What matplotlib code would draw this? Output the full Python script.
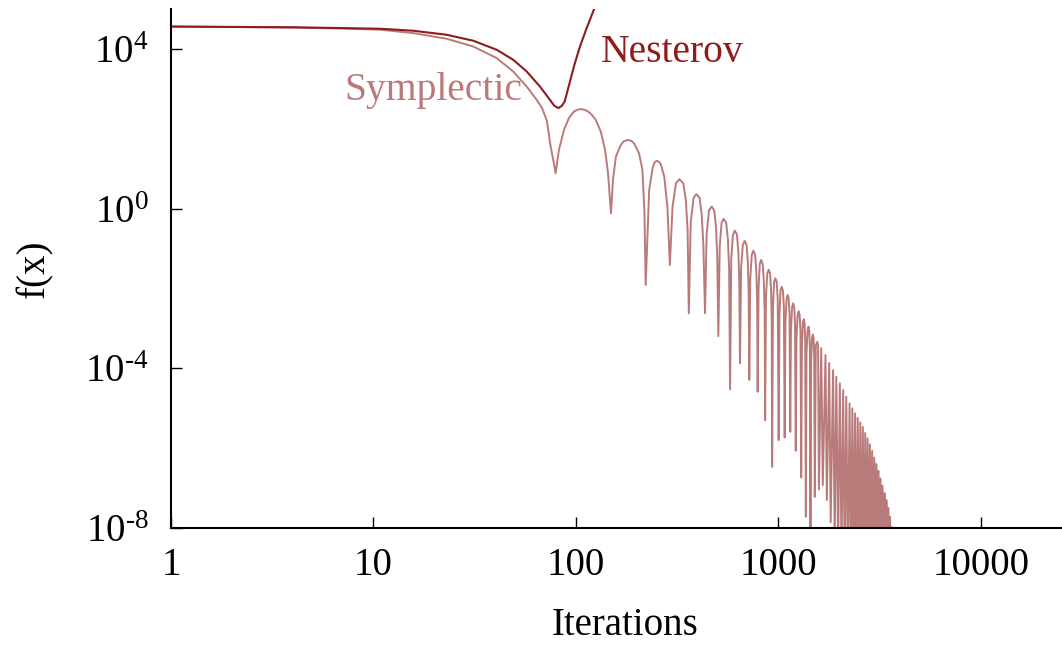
import matplotlib
matplotlib.use("Agg")
import matplotlib.pyplot as plt

# values (log-log axes)
nes_iter = [1, 4, 7, 10.8, 15.7, 23.0, 31.1, 40.6, 49.0, 57.1, 66.4, 74.4, 78, 81.8,
            85, 88, 93.4, 98, 104.7, 113, 123, 128]
nes_f = [3.6e4, 3.45e4, 3.3e4, 3.17e4, 2.83e4, 2.24e4, 1.59e4, 9440, 5300, 2700, 1135, 527,
         380, 327, 370, 480, 1500, 3800, 1.14e4, 3.3e4, 9.9e4, 1.5e5]

sym_iter = [
    1, 4, 7, 10.8, 15.7, 23.0, 31.1, 40.6, 49.0, 57.1, 64, 68, 71.8, 75, 77.8, 79.4,
    82.4, 87.3, 92.3, 97.7, 102, 106.3, 111, 115.9, 120, 125.2, 132.6, 139.3, 144, 149,
    152.4, 157.5, 166.5, 172, 180, 187, 193.6, 205, 213, 218, 221,
    230, 239, 244, 250, 256, 262, 273, 283, 291,
    300, 312, 324, 339, 349, 356, 361,
    369, 381, 393, 408, 418, 426, 434,
    442, 454, 468, 482, 492, 499, 505,
    513, 524, 536, 552, 563, 571, 577,
    585, 596, 609, 624, 634, 641, 646,
    654, 667, 681, 696, 706, 713, 718,
    726, 739, 752, 767, 778, 785, 790,
    798, 809, 821, 836, 847, 855, 860,
    868, 881, 895, 910, 920, 927, 931,
    940, 952, 966, 981, 992, 1003,
    1012, 1024, 1038, 1053, 1064, 1074,
    1083, 1097, 1111, 1124, 1135, 1144,
    1153, 1168, 1183, 1197, 1208, 1218,
    1228, 1244, 1259, 1273, 1285, 1296,
    1306, 1320, 1334, 1346, 1356, 1366,
    1376, 1392, 1408, 1420, 1430, 1440,
    1450, 1465, 1479, 1492, 1502, 1512,
    1530, 1555, 1570, 1585,
    1627, 1656, 1708, 1734, 1782, 1812, 1862, 1897, 1932, 1972,
    2011, 2050, 2088, 2126, 2163, 2205, 2246, 2283, 2319, 2356,
    2392, 2429, 2465, 2502, 2538, 2575, 2611, 2648, 2684, 2721,
    2757, 2794, 2830, 2867, 2903, 2940, 2976, 3013, 3049, 3086,
    3122, 3159, 3195, 3232, 3268, 3305, 3341, 3378, 3414, 3451,
    3487, 3524, 3560, 3597, 3633, 3670,
]
sym_f = [
    3.6e4, 3.4e4, 3.2e4, 3.0e4, 2.47e4, 1.78e4, 1.14e4, 5850, 2700, 1135, 527, 330, 160, 35.6, 13.6, 7.7,
    29.4, 93, 183, 268, 298, 309, 294, 259, 220, 166, 85, 29.4, 7.7, 0.76,
    5.2, 20, 39, 48, 52, 50, 43, 24, 9.3, 0.76, 0.0122,
    2.9, 10.2, 14, 15.6, 15, 13.1, 6.3, 1.1, 0.0386,
    1.12, 4.3, 5.4, 4.3, 1.64, 0.29, 0.00238,
    0.46, 1.84, 2.3, 1.84, 0.7, 0.12, 0.00238,
    0.22, 0.9, 1.12, 0.9, 0.34, 0.06, 6.4e-4,
    0.11, 0.44, 0.55, 0.44, 0.17, 0.03, 2.96e-5,
    0.056, 0.22, 0.28, 0.22, 0.085, 0.015, 1.33e-4,
    0.031, 0.123, 0.154, 0.123, 0.047, 0.008, 5.1e-5,
    0.018, 0.07, 0.088, 0.07, 0.027, 0.0046, 2.58e-5,
    0.0103, 0.041, 0.0515, 0.041, 0.0157, 0.0027, 5e-6,
    0.0059, 0.0235, 0.0294, 0.0235, 0.009, 0.0016, 3.4e-7,
    0.0036, 0.0143, 0.0179, 0.0143, 0.0055, 1.59e-6,
    0.0022, 0.0088, 0.011, 0.0088, 0.0034, 1.85e-6,
    0.00137, 0.0055, 0.00684, 0.0055, 0.0021, 2.56e-6,
    0.00085, 0.0034, 0.00424, 0.0034, 0.0013, 8.6e-7,
    0.00054, 0.00215, 0.00269, 0.00215, 0.00083, 1.85e-7,
    0.00034, 0.00135, 0.00169, 0.00135, 0.0005, 1.9e-8,
    0.00022, 0.00088, 0.0011, 0.00088, 0.00033, 8e-9,
    1.4e-4, 5.6e-4, 7e-4, 5.6e-4, 2.1e-4, 6e-8,
    3.7e-4, 4.6e-4, 3.7e-4, 9.2e-8,
    3.2e-4, 1.18e-7, 2.14e-4, 5e-8, 1.35e-4, 1.4e-8, 9.0e-5, 5e-9, 6.1e-5, 3e-9,
    4.2e-5, 2e-9, 2.84e-5, 1e-9, 1.93e-5, 1e-9, 1.32e-5, 1e-9, 9.9e-6, 1e-9,
    7.4e-6, 1e-9, 5.7e-6, 1e-9, 4.4e-6, 1e-9, 3.4e-6, 1e-9, 2.4e-6, 1e-9,
    1.75e-6, 1e-9, 1.24e-6, 1e-9, 8.5e-7, 1e-9, 5.8e-7, 1e-9, 4.0e-7, 1e-9,
    2.7e-7, 1e-9, 1.74e-7, 1e-9, 1.15e-7, 1e-9, 7.5e-8, 1e-9, 5.0e-8, 1e-9,
    3.2e-8, 1e-9, 1.9e-8, 1e-9, 1.05e-8, 1e-9,
]

x_ticks = [1, 10, 100, 1000, 10000]
x_labels = ["1", "10", "100", "1000", "10000"]
y_ticks = [1e-8, 1e-4, 1e0, 1e4]
y_labels = ["$\\mathrm{10^{\u20108}}$", "$\\mathrm{10^{\u20104}}$",
            "$\\mathrm{10^{0}}$", "$\\mathrm{10^{4}}$"]

col_nes = "#8e1c1c"
col_sym = "#b97a7a"

plt.rcParams["font.family"] = ["Liberation Serif", "DejaVu Serif"]
plt.rcParams["mathtext.fontset"] = "custom"
plt.rcParams["mathtext.rm"] = "Liberation Serif"
plt.rcParams["mathtext.it"] = "Liberation Serif:italic"
plt.rcParams["font.size"] = 28

fig = plt.figure(figsize=(10.62, 6.49), dpi=100)
ax = fig.add_axes([0.161, 0.1864, 0.8385, 0.8])

ax.plot(sym_iter, sym_f, color=col_sym, lw=1.4)
ax.plot(nes_iter, nes_f, color=col_nes, lw=1.5)

ax.set_xscale("log")
ax.set_yscale("log")
ax.set_xlim(1, 25000)
ax.set_ylim(1e-8, 1e5)

ax.set_xticks(x_ticks)
ax.set_xticklabels(x_labels)
ax.set_yticks(y_ticks)
ax.set_yticklabels(y_labels)
ax.minorticks_off()
ax.tick_params(direction="in", length=8, width=1, pad=14)
ax.tick_params(axis="y", pad=16)

for s in ["top", "right"]:
    ax.spines[s].set_visible(False)
for s in ["left", "bottom"]:
    ax.spines[s].set_linewidth(1.5)

ax.set_xlabel("Iterations", va="center")
ax.xaxis.set_label_coords(0.51, -0.187)
ax.set_ylabel("f(x)", va="center", ha="center")
ax.yaxis.set_label_coords(-0.153, 0.5)

ax.text(133, 4700, "Nesterov", color=col_nes, ha="left", va="baseline", fontsize=28.5)
ax.text(7.2, 512, "Symplectic", color=col_sym, ha="left", va="baseline", fontsize=28.5)

fig.savefig("out.png", dpi=100)
